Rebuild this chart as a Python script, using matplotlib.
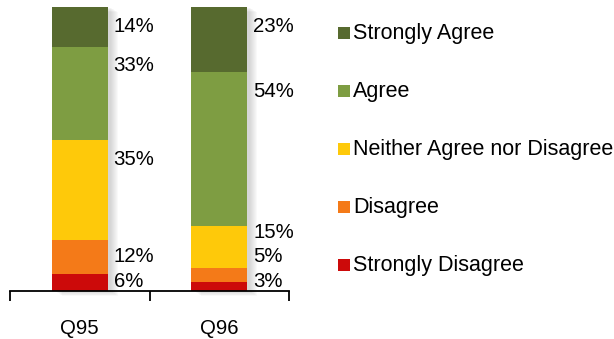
import matplotlib
matplotlib.use("Agg")
import matplotlib.pyplot as plt
from matplotlib.patches import Rectangle
import numpy as np

plt.rcParams['font.family'] = ['Liberation Sans', 'DejaVu Sans']

categories = ["Q95", "Q96"]
series_names = ["Strongly Disagree", "Disagree", "Neither Agree nor Disagree", "Agree", "Strongly Agree"]
strongly_disagree = [6, 3]
disagree = [12, 5]
neither = [35, 15]
agree = [33, 54]
strongly_agree = [14, 23]
colors = ["#cc0a0a", "#f47a18", "#fec90a", "#7e9d42", "#576a2f"]

values = [strongly_disagree, disagree, neither, agree, strongly_agree]

W, H = 614, 339
fig = plt.figure(figsize=(W / 100, H / 100), dpi=100)
ax = fig.add_axes([10 / W, (H - 291) / H, (289 - 10) / W, (291 - 7) / H])
ax.set_xlim(-0.5, 1.5)
ax.set_ylim(0, 100)

x = np.arange(len(categories))
width = 0.40
fs = 14.7
fs_leg = 15.5

# soft shadow
px = 2.0 / 279  # data units per pixel along x
py = 100 / 284
for k in range(1, 9):
    off = k * px
    ax.bar(x + off + 2 * px, [100, 100], width=width, bottom=-k * py * 0.6,
           color="#808080", alpha=0.045, linewidth=0, zorder=1, clip_on=False)

bottom = np.zeros(len(categories))
for vals, col in zip(values, colors):
    ax.bar(x, vals, width=width, bottom=bottom, color=col, linewidth=0, zorder=3)
    bottom = bottom + np.array(vals)

# labels: near top of each segment, pushed up to avoid overlap
for i in range(len(categories)):
    cum = 0
    prev = None
    for vals in values:
        top = cum + vals[i]
        y = top - 6.7
        lo = 3.4 if prev is None else prev + 8.6
        y = max(y, lo)
        prev = y
        ax.text(x[i] + width / 2 + 6 * px, y, f"{vals[i]}%",
                ha="left", va="center", fontsize=fs, color="#000000", zorder=4)
        cum = top

for s in ["left", "top", "right"]:
    ax.spines[s].set_visible(False)
ax.spines["bottom"].set_linewidth(1.3)
ax.spines["bottom"].set_zorder(5)
ax.set_yticks([])
ax.set_xticks(x)
ax.set_xticklabels(categories, fontsize=fs)
ax.tick_params(axis="x", which="major", length=0, pad=20)
ax.set_xticks([-0.5, 0.5, 1.5], minor=True)
ax.tick_params(axis="x", which="minor", length=7, width=1.3, direction="out")

# legend (drawn manually in figure pixels)
legend_items = list(zip(series_names, colors))[::-1]
row_y = [33, 91, 149, 207, 265]
for (name, col), yy in zip(legend_items, row_y):
    fig.patches.append(Rectangle(((338) / W, (H - yy - 6) / H), 12 / W, 12 / H,
                                 transform=fig.transFigure, facecolor=col,
                                 edgecolor="none"))
    fig.text(353 / W, (H - yy) / H, name, ha="left", va="center",
             fontsize=fs_leg, color="#000000")

fig.savefig("out.png", dpi=100)
